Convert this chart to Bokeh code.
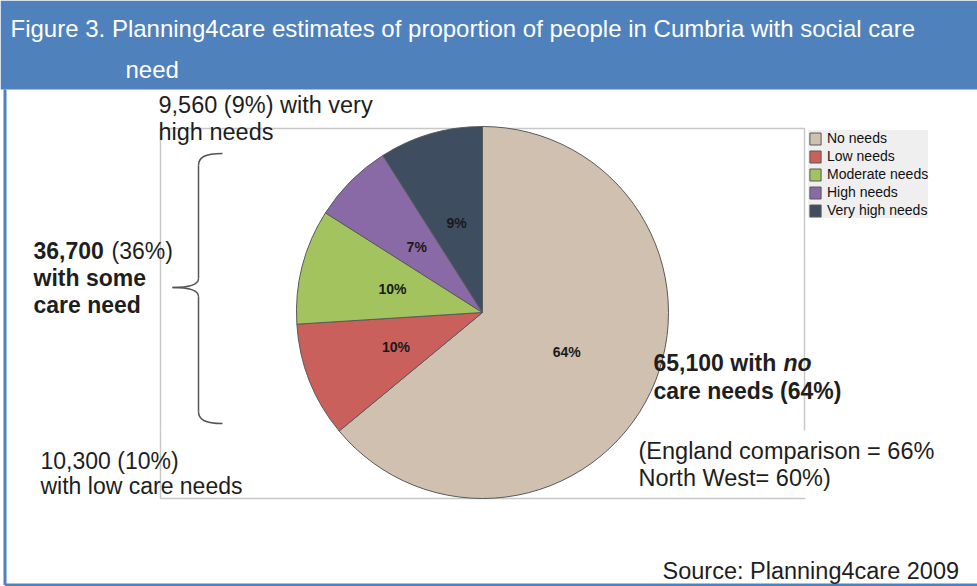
import numpy as np
from bokeh.plotting import figure
from bokeh.models import Range1d, Legend, LegendItem, ColumnDataSource
from bokeh.core.properties import value
from bokeh.embed import file_html
from bokeh.resources import INLINE

# ---- data ----
categories = ["No needs", "Low needs", "Moderate needs", "High needs", "Very high needs"]
shares = [64, 10, 10, 7, 9]
pct_labels = ["64%", "10%", "10%", "7%", "9%"]
colors = ["#CFC0AF", "#C9605B", "#A2C35E", "#8A6AA6", "#3E4D60"]

W, H = 977, 586
FONT = "Liberation Sans"

def Y(y):
    return H - y

p = figure(width=W, height=H, output_backend="svg", toolbar_location=None,
           x_range=Range1d(0, W), y_range=Range1d(0, H),
           x_axis_type=None, y_axis_type=None, min_border=0,
           outline_line_color=None, background_fill_color="white")
p.grid.visible = False

blue = "#4F81BD"
# title bar and frame
p.quad(left=0, right=W, bottom=Y(89), top=Y(0), fill_color=blue, line_color=None)
p.segment(x0=[4.5, 4.5], y0=[Y(89), Y(584.5)], x1=[4.5, W], y1=[Y(584.5), Y(584.5)],
          line_color=blue, line_width=3)

p.text(x=[10], y=[Y(28)], text=["Figure 3. Planning4care estimates of proportion of people in Cumbria with social care"],
       text_font=value(FONT), text_font_size="24px", text_color="white",
       text_baseline="middle", text_align="left")
p.text(x=[125], y=[Y(69)], text=["need"],
       text_font=value(FONT), text_font_size="24px", text_color="white",
       text_baseline="middle", text_align="left")

# grey chart border
p.line(x=[160, 160, 804, 804], y=[Y(430), Y(128), Y(128), Y(430)], line_color="#C8C8C8", line_width=1.5)
p.line(x=[160, 160, 805], y=[Y(430), Y(498), Y(498)], line_color="#C8C8C8", line_width=1.5)

# pie
cx, cy, R = 482, Y(312), 186
frac = np.array(shares, dtype=float) / sum(shares)
cum = np.concatenate([[0], np.cumsum(frac)])
start = np.deg2rad(90 - 360 * cum[:-1])
end = np.deg2rad(90 - 360 * cum[1:])
mid = (start + end) / 2
src = ColumnDataSource(dict(cat=categories, start=start, end=end, color=colors,
                            lx=cx + 0.5 * R * np.cos(mid), ly=cy + 0.5 * R * np.sin(mid),
                            lab=pct_labels))
wr = p.wedge(x=cx, y=cy, radius=R, start_angle="start", end_angle="end", direction="clock",
             fill_color="color", line_color="#5A5A5A", line_width=1, source=src)
p.text(x="lx", y="ly", text="lab", source=src, text_font=value(FONT), text_font_size="14px",
       text_font_style="bold", text_color="#1A1A1A", text_align="center", text_baseline="middle")

legend = Legend(items=[LegendItem(label=c, renderers=[wr], index=i) for i, c in enumerate(categories)],
                location=(808, H - 218), orientation="vertical",
                glyph_width=14, glyph_height=15, label_height=15, spacing=2, padding=4,
                margin=0, label_standoff=5, label_text_font=FONT, label_text_font_size="14px",
                label_text_color="#111111", background_fill_color="#EFEFEF", background_fill_alpha=1,
                border_line_color=None)
p.add_layout(legend)

# annotations
txt = dict(text_font=value(FONT), text_baseline="middle", text_align="left", text_color="#1E1E1E")
p.text(x=[158, 158], y=[Y(104), Y(131)], text=["9,560 (9%) with very", "high needs"],
       text_font_size="23.5px", **txt)
p.text(x=[33], y=[Y(250)], text=["36,700"], text_font_size="23px", text_font_style="bold", **txt)
p.text(x=[111], y=[Y(250)], text=["(36%)"], text_font_size="23px", **txt)
p.text(x=[33, 33], y=[Y(277), Y(304)], text=["with some", "care need"],
       text_font_size="23px", text_font_style="bold", **txt)
p.text(x=[40, 40], y=[Y(460), Y(485)], text=["10,300 (10%)", "with low care needs"],
       text_font_size="23px", **txt)
p.text(x=[653], y=[Y(362)], text=["65,100 with"], text_font_size="23px", text_font_style="bold", **txt)
p.text(x=[783], y=[Y(362)], text=["no"], text_font_size="23px", text_font_style="bold italic", **txt)
p.text(x=[653], y=[Y(390)], text=["care needs (64%)"], text_font_size="23px", text_font_style="bold", **txt)
p.text(x=[638, 638], y=[Y(450), Y(477)], text=["(England comparison = 66%", "North West= 60%)"],
       text_font_size="23.5px", **txt)
p.text(x=[662], y=[Y(570)], text=["Source: Planning4care 2009"], text_font_size="23.5px", **txt)

# brace
bc = "#555555"
p.bezier(x0=[222, 198, 172, 198], y0=[Y(153), Y(278), Y(287), Y(411)],
         x1=[198, 172, 198, 222], y1=[Y(165), Y(287), Y(296), Y(423)],
         cx0=[204, 198, 186, 198], cy0=[Y(153), Y(285), Y(287), Y(419)],
         cx1=[198, 186, 198, 204], cy1=[Y(157), Y(287), Y(289), Y(423)],
         line_color=bc, line_width=1.5)
p.segment(x0=[198, 198], y0=[Y(165), Y(296)], x1=[198, 198], y1=[Y(278), Y(411)],
          line_color=bc, line_width=1.5)

open("out.html", "w").write(file_html(p, INLINE))
